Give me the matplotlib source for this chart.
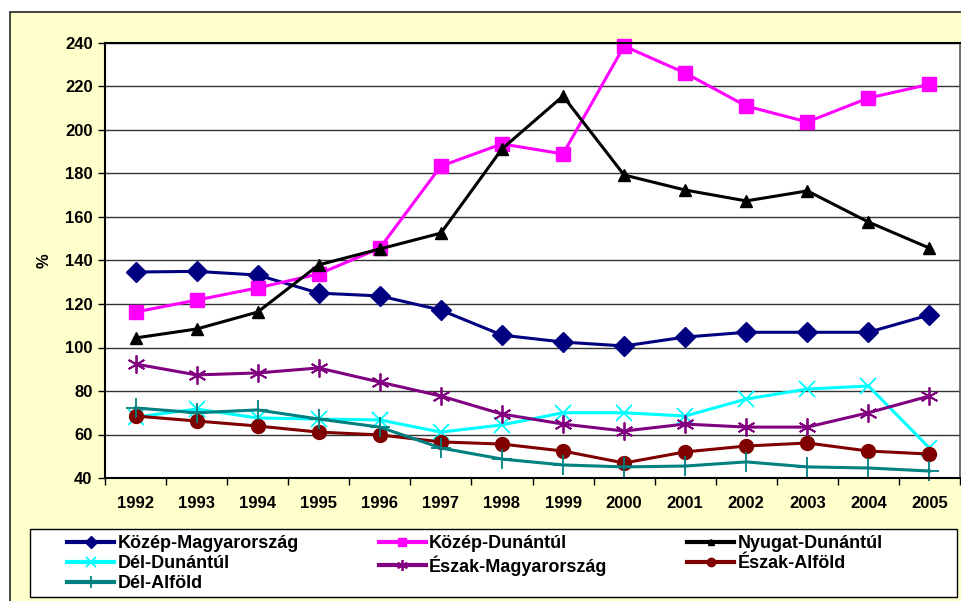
import matplotlib.pyplot as plt
from matplotlib.patches import Rectangle

plt.rcParams["font.family"] = ["Liberation Sans", "DejaVu Sans"]
plt.rcParams["font.weight"] = "bold"

# Adatok
evek = ["1992", "1993", "1994", "1995", "1996", "1997", "1998",
        "1999", "2000", "2001", "2002", "2003", "2004", "2005"]

kozep_magyarorszag = [134.7, 135, 133.3, 125, 123.7, 117.2, 105.7,
                      102.5, 100.7, 104.8, 107, 107, 107, 115]
kozep_dunantul = [116.3, 121.8, 127.4, 133.8, 145.7, 183.4, 193.6,
                  189, 238.6, 226.2, 211, 203.7, 214.7, 221]
nyugat_dunantul = [104.4, 108.5, 116.3, 138, 145.3, 152.6, 191.3,
                   215.6, 179.3, 172.4, 167.4, 172, 157.7, 145.7]
del_dunantul = [68, 71.7, 67.6, 67.1, 66.7, 61.1, 64.4,
                70, 70, 68.5, 76.3, 80.9, 82.3, 53.8]
eszak_magyarorszag = [92.4, 87.4, 88.3, 90.6, 84.1, 77.7, 69.4,
                      64.8, 61.6, 64.8, 63.4, 63.4, 70, 77.7]
eszak_alfold = [68.5, 66.2, 63.9, 61.1, 59.8, 56.6, 55.6,
                52.4, 46.9, 52, 54.7, 56.1, 52.4, 51]
del_alfold = [72.2, 70, 71.3, 67.1, 63.4, 53.8, 48.7,
              46, 45.1, 45.5, 47.4, 45.1, 44.6, 43.2]

sorozatok = [
    ("Közép-Magyarország", kozep_magyarorszag, "#000080", "D", 10),
    ("Közép-Dunántúl", kozep_dunantul, "#FF00FF", "s", 10),
    ("Nyugat-Dunántúl", nyugat_dunantul, "#000000", "^", 8),
    ("Dél-Dunántúl", del_dunantul, "#00FFFF", "x", 11),
    ("Észak-Magyarország", eszak_magyarorszag, "#800080", (6, 2, 0), 13),
    ("Észak-Alföld", eszak_alfold, "#800000", "o", 10),
    ("Dél-Alföld", del_alfold, "#008080", "+", 14),
]

fig = plt.figure(figsize=(9.61, 6.01), dpi=100)
fig.patch.set_facecolor("white")

# Diagramterület háttere
fig.patches.append(Rectangle((10 / 961, -0.1), 1.1, (601 - 12) / 601 + 0.1,
                             transform=fig.transFigure, facecolor="#FFFFCC",
                             edgecolor="#222222", linewidth=1.2, zorder=-5))
# Jelmagyarázat kerete
fig.patches.append(Rectangle((30 / 961, (601 - 597) / 601), 927 / 961, 68 / 601,
                             transform=fig.transFigure, facecolor="white",
                             edgecolor="black", linewidth=1, zorder=-4))

ax = fig.add_axes([105 / 961, (601 - 478) / 601, 855 / 961, 435 / 601])
ax.set_facecolor("white")

x = list(range(len(evek)))
vonalak = []
for nev, ertekek, szin, jel, meret in sorozatok:
    mew = 1.3 if jel in ("x", "+") or isinstance(jel, tuple) else 1
    (v,) = ax.plot(x, ertekek, color=szin, linewidth=2.2, marker=jel,
                   markersize=meret, markerfacecolor=szin, markeredgecolor=szin,
                   markeredgewidth=mew, label=nev, clip_on=False)
    vonalak.append(v)

ax.set_xlim(-0.5, len(evek) - 0.5)
ax.set_ylim(40, 240)
ax.set_yticks(range(40, 241, 20))
ax.tick_params(axis="y", labelsize=12, length=5, width=1, pad=4)
ax.set_xticks(x)
ax.set_xticklabels(evek)
ax.set_xticks([i - 0.5 for i in range(len(evek) + 1)], minor=True)
ax.tick_params(axis="x", which="major", length=0, labelsize=12, pad=13)
ax.tick_params(axis="x", which="minor", length=5, width=1)

ax.grid(axis="y", color="#333333", linewidth=1)
ax.set_axisbelow(True)
for s in ["left", "bottom", "top"]:
    ax.spines[s].set_color("black")
    ax.spines[s].set_linewidth(1.5)
ax.spines["right"].set_color("#555555")
ax.spines["right"].set_linewidth(1.2)

ax.set_ylabel("%", fontsize=12, fontweight="bold")
ax.yaxis.set_label_coords(-0.063, 0.5)

# Jelmagyarázat soronként
sorrend = [0, 3, 6, 1, 4, 2, 5]
leg = fig.legend([vonalak[i] for i in sorrend], [sorozatok[i][0] for i in sorrend],
                 ncol=3, loc="upper left",
                 bbox_to_anchor=(62 / 961, (601 - 530) / 601),
                 borderaxespad=0, frameon=False, fontsize=13,
                 handlelength=2.6, handletextpad=0.2, labelspacing=0.15,
                 columnspacing=4.4, borderpad=0.3, markerscale=0.6)
for h in leg.legend_handles:
    h.set_linewidth(3)

plt.savefig("out.png", dpi=100)
